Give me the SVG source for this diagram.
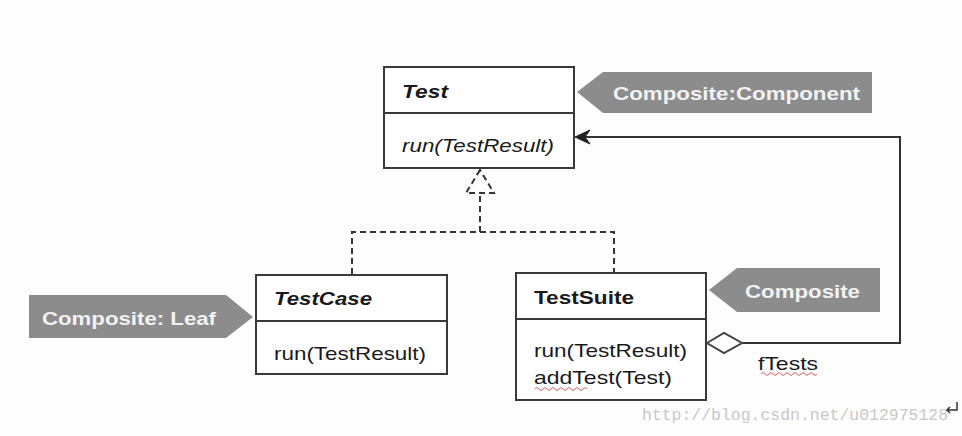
<svg xmlns="http://www.w3.org/2000/svg" width="962" height="436" viewBox="0 0 962 436">
<defs>
<style>
.box{fill:#ffffff;stroke:#3a3a3a;stroke-width:2}
.div{stroke:#3a3a3a;stroke-width:2}
.t{font-family:"Liberation Sans",Arial,sans-serif;font-size:19px;fill:#1a1a1a}
.b{font-weight:bold}
.i{font-style:italic}
.tag{fill:#8c8c8c}
.tagt{font-family:"Liberation Sans",Arial,sans-serif;font-size:19px;font-weight:bold;fill:#f2f2f2}
.dash{fill:none;stroke:#333;stroke-width:2;stroke-dasharray:6,4}
.line{fill:none;stroke:#333;stroke-width:2}
.wave{fill:none;stroke:#e06060;stroke-width:1}
.wm{font-family:"Liberation Mono","DejaVu Sans Mono",monospace;font-size:16.5px;fill:#c8c8c8}
</style>
</defs>
<rect width="962" height="436" fill="#fefdfe"/>

<g id="connectors">
<path class="dash" d="M352,274 V232 H614 V273"/>
<path class="dash" d="M480,232 V193"/>
<path class="dash" d="M480,170 L466,193 H494 Z"/>
<path class="line" d="M742,343 H900 V137 H582"/>
<path d="M575,137 L590,130 L585,137 L590,144 Z" fill="#222" stroke="#222" stroke-width="1" stroke-linejoin="round"/>
<path d="M707,343 L724,333 L742,343 L724,353 Z" fill="#ffffff" stroke="#444" stroke-width="2"/>
</g>

<g id="Test">
<rect class="box" x="384" y="67" width="190" height="101"/>
<line class="div" x1="384" y1="113" x2="574" y2="113"/>
<text class="t b i" x="402" y="98" textLength="46" lengthAdjust="spacingAndGlyphs">Test</text>
<text class="t i" x="402" y="152" textLength="152" lengthAdjust="spacingAndGlyphs">run(TestResult)</text>
</g>

<g id="TestCase">
<rect class="box" x="256" y="275" width="191" height="99"/>
<line class="div" x1="256" y1="321" x2="447" y2="321"/>
<text class="t b i" x="274" y="305" textLength="98" lengthAdjust="spacingAndGlyphs">TestCase</text>
<text class="t" x="274" y="360" textLength="152" lengthAdjust="spacingAndGlyphs">run(TestResult)</text>
</g>

<g id="TestSuite">
<rect class="box" x="516" y="273" width="190" height="127"/>
<line class="div" x1="516" y1="319" x2="706" y2="319"/>
<text class="t b" x="534" y="304" textLength="100" lengthAdjust="spacingAndGlyphs">TestSuite</text>
<text class="t" x="534" y="357" textLength="153" lengthAdjust="spacingAndGlyphs">run(TestResult)</text>
<text class="t" x="534" y="384" textLength="138" lengthAdjust="spacingAndGlyphs">addTest(Test)</text>
<path class="wave" d="M535,389 q2,-3 4,0 t4,0 t4,0 t4,0 t4,0 t4,0 t4,0 t4,0 t4,0 t4,0 t4,0 t4,0 t4,0"/>
</g>

<g id="tag-component">
<polygon class="tag" points="577,92 603,72 872,72 872,113 603,113"/>
<text class="tagt" x="613" y="100" textLength="247" lengthAdjust="spacingAndGlyphs">Composite:Component</text>
</g>

<g id="tag-leaf">
<polygon class="tag" points="29,295 226,295 253,317 226,338 29,338"/>
<text class="tagt" x="42" y="325" textLength="174" lengthAdjust="spacingAndGlyphs">Composite: Leaf</text>
</g>

<g id="tag-composite">
<polygon class="tag" points="709,290 737,268 880,268 880,312 737,312"/>
<text class="tagt" x="745" y="298" textLength="115" lengthAdjust="spacingAndGlyphs">Composite</text>
</g>

<g id="fTests">
<text class="t" x="758" y="370" textLength="60" lengthAdjust="spacingAndGlyphs">fTests</text>
<path class="wave" d="M761,374 q2,-3 4,0 t4,0 t4,0 t4,0 t4,0 t4,0 t4,0 t4,0 t4,0 t4,0 t4,0 t4,0 t4,0 t4,0"/>
</g>

<g id="watermark">
<text class="wm" x="642" y="420" textLength="306" lengthAdjust="spacingAndGlyphs">http://blog.csdn.net/u012975128</text>
<path d="M957,402 V410 H947 M950,407 L947,410 L950,413" fill="none" stroke="#333" stroke-width="1.5"/>
</g>
</svg>
